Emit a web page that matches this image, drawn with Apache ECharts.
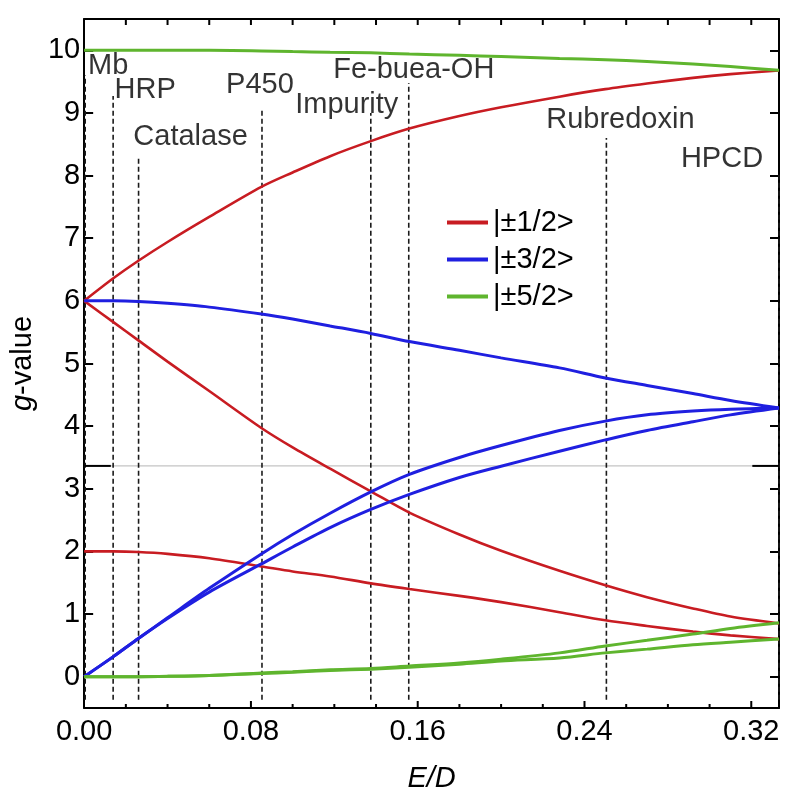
<!DOCTYPE html>
<html><head><meta charset="utf-8">
<script src="https://cdn.jsdelivr.net/npm/echarts@6/dist/echarts.min.js"></script>
<style>html,body{margin:0;padding:0;background:#fff}#c{width:800px;height:798px}</style>
</head><body><div id="c"></div>
<script>
// E/D sample positions
const ED = [0, 0.014, 0.026, 0.04, 0.06, 0.085, 0.1, 0.118, 0.1375, 0.156, 0.18, 0.2, 0.228, 0.25, 0.27, 0.292, 0.31, 0.3333];
// |±1/2> doublet g-values
const half1 = [6.0, 6.36, 6.64, 6.94, 7.34, 7.82, 8.05, 8.31, 8.55, 8.75, 8.95, 9.09, 9.26, 9.38, 9.47, 9.56, 9.62, 9.68];
const half2 = [6.0, 5.66, 5.37, 5.03, 4.56, 3.97, 3.66, 3.32, 2.96, 2.62, 2.27, 2.01, 1.69, 1.46, 1.27, 1.09, 0.96, 0.85];
const half3 = [2.0, 2.0, 1.99, 1.96, 1.89, 1.76, 1.68, 1.60, 1.49, 1.40, 1.29, 1.19, 1.03, 0.90, 0.81, 0.72, 0.66, 0.60];
// |±3/2> doublet
const three1 = [6.0, 6.0, 5.99, 5.96, 5.90, 5.79, 5.71, 5.60, 5.48, 5.35, 5.21, 5.09, 4.93, 4.77, 4.65, 4.52, 4.41, 4.29];
const three2 = [0, 0.32, 0.61, 0.94, 1.41, 1.96, 2.27, 2.61, 2.95, 3.23, 3.50, 3.69, 3.93, 4.08, 4.18, 4.24, 4.27, 4.29];
const three3 = [0, 0.32, 0.61, 0.93, 1.35, 1.80, 2.07, 2.38, 2.67, 2.91, 3.18, 3.36, 3.60, 3.78, 3.93, 4.07, 4.18, 4.29];
// |±5/2> doublet
const five1 = [10, 10, 10, 10, 10, 9.99, 9.98, 9.97, 9.96, 9.94, 9.92, 9.90, 9.87, 9.85, 9.82, 9.78, 9.74, 9.68];
const five2 = [0, 0, 0, 0.005, 0.02, 0.06, 0.08, 0.11, 0.13, 0.17, 0.22, 0.28, 0.38, 0.49, 0.58, 0.68, 0.77, 0.86];
const five3 = [0, 0, 0, 0.005, 0.02, 0.05, 0.07, 0.10, 0.12, 0.15, 0.20, 0.25, 0.30, 0.38, 0.44, 0.51, 0.55, 0.60];

const legendNames = ['|±1/2>', '|±3/2>', '|±5/2>'];
const xTicks = [0, 0.08, 0.16, 0.24, 0.32];
const xMajorTicks = [0.08, 0.16, 0.24, 0.32];
const xMinorTicks = [0.02, 0.04, 0.06, 0.10, 0.12, 0.14, 0.18, 0.20, 0.22, 0.26, 0.28, 0.30];
const xTopTicks = [0.02, 0.04, 0.06, 0.08, 0.10, 0.12, 0.14, 0.16, 0.18, 0.20, 0.22, 0.24, 0.26, 0.28, 0.30, 0.32];

// Reference systems (dashed markers)
const markerNames = ['Mb', 'HRP', 'Catalase', 'P450', 'Impurity', 'Fe-buea-OH', 'Rubredoxin', 'HPCD'];
const markerED = [0.0005, 0.0139, 0.0261, 0.0853, 0.1375, 0.1557, 0.2505, 0.3333];
const markerTop = [9.6, 9.27, 8.3, 9.08, 9.0, 9.48, 8.6, 8.05];
const markerBottom = -0.37;
const breakG = 3.365;
const Y_MIN = -0.5, Y_MAX = 10.5, X_MAX = 0.3333;

// ---- styles ----
const FONT = 'Liberation Sans, Arial, Helvetica, sans-serif';
const FS = 29;
const RED = '#c81c22', BLUE = '#1f1fe0', GREEN = '#5fb52e';
const labelOffsets = [[23, -9], [32, -6], [52, -20], [-2, -23], [-24, -8], [5, -13], [14, -18], [-57, -13]];
const PX_PER_G = (798 - 19 - 85) / (Y_MAX - Y_MIN);

const toPts = ys => ED.map((x, i) => [x, ys[i]]);
const curve = (name, ys, color, w) => ({
  name, type: 'line', data: toPts(ys), showSymbol: false, symbol: 'none',
  smooth: 0.3, lineStyle: { color, width: w }, itemStyle: { color }, z: 3
});

const series = [
  curve(legendNames[0], half1, RED, 2.6),
  curve(legendNames[0], half2, RED, 2.6),
  curve(legendNames[0], half3, RED, 2.6),
  curve(legendNames[1], three1, BLUE, 3),
  curve(legendNames[1], three2, BLUE, 3),
  curve(legendNames[1], three3, BLUE, 3),
  curve(legendNames[2], five1, GREEN, 3),
  curve(legendNames[2], five2, GREEN, 3),
  curve(legendNames[2], five3, GREEN, 3)
];

markerNames.forEach((n, i) => {
  series.push({
    name: 'm_' + n, type: 'line', symbol: 'none', silent: true, z: 2,
    data: [[markerED[i], markerBottom], [markerED[i], markerTop[i]]],
    lineStyle: { color: '#1a1a1a', width: 1.6, type: [5, 3] }
  });
});
series.push({
  name: 'labels', type: 'scatter', symbol: 'circle', symbolSize: 1, silent: true, z: 5,
  itemStyle: { color: 'transparent' },
  data: markerNames.map((n, i) => ({
    value: [markerED[i], markerTop[i]], name: n,
    label: { offset: labelOffsets[i] }
  })),
  label: {
    show: true, position: 'inside', formatter: p => p.name,
    fontSize: FS, fontFamily: FONT, color: '#000', align: 'center', verticalAlign: 'middle'
  }
});
// axis break indicator
series.push({
  name: 'break', type: 'line', symbol: 'none', silent: true, z: 1,
  data: [[0, breakG], [X_MAX, breakG]],
  lineStyle: { color: '#c4c4c4', width: 1.2 }
});
series.push({
  name: 'breakL', type: 'line', symbol: 'none', silent: true, z: 6,
  data: [[0, breakG], [0.0128, breakG]], lineStyle: { color: '#000', width: 2 }
});
series.push({
  name: 'breakR', type: 'line', symbol: 'none', silent: true, z: 6,
  data: [[0.3205, breakG], [X_MAX, breakG]], lineStyle: { color: '#000', width: 2 }
});
// x-axis tick marks (drawn through the axis scales)
const tickSeries = (name, vals, from, lenPx, dir) => {
  const d = [];
  vals.forEach(v => { d.push([v, from], [v, from + dir * lenPx / PX_PER_G], ['-', '-']); });
  return { name, type: 'line', symbol: 'none', silent: true, z: 7, clip: false, connectNulls: false,
    data: d, lineStyle: { color: '#000', width: 2 } };
};
series.push(tickSeries('tMajor', xMajorTicks, Y_MIN, 7, 1));
series.push(tickSeries('tMinor', xMinorTicks, Y_MIN, 4, 1));
series.push(tickSeries('tTop', xTopTicks, Y_MAX, 6, -1));

const axisLine = () => ({ show: true, onZero: false, lineStyle: { color: '#000', width: 2 } });
const ytick = { show: true, inside: true, length: 9, lineStyle: { color: '#000', width: 2 } };
const chart = echarts.init(document.getElementById('c'), null, { renderer: 'canvas' });
chart.setOption({
  animation: false,
  backgroundColor: '#fff',
  grid: { left: 84, right: 21, top: 19, bottom: 85 },
  legend: {
    data: legendNames, orient: 'vertical', left: 442, top: 203, itemGap: 8,
    icon: 'rect', itemWidth: 41, itemHeight: 4,
    textStyle: { fontSize: FS, fontFamily: FONT, color: '#000' }
  },
  xAxis: [
    {
      type: 'value', position: 'bottom', min: 0, max: X_MAX, interval: 0.08,
      axisLine: axisLine(), splitLine: { show: false }, axisTick: { show: false },
      axisLabel: {
        margin: 9, fontSize: FS, fontFamily: FONT, color: '#000', showMaxLabel: false,
        formatter: v => xTicks.some(t => Math.abs(t - v) < 1e-6) ? v.toFixed(2) : ''
      },
      name: 'E/D', nameLocation: 'middle', nameGap: 56,
      nameTextStyle: { fontSize: FS, fontFamily: FONT, fontStyle: 'italic', color: '#000' }
    },
    {
      type: 'value', position: 'top', min: 0, max: X_MAX, interval: 0.02,
      axisLine: axisLine(), splitLine: { show: false }, axisLabel: { show: false }, axisTick: { show: false }
    }
  ],
  yAxis: [
    {
      type: 'value', position: 'left', min: Y_MIN, max: Y_MAX, splitNumber: 11,
      axisLine: axisLine(), splitLine: { show: false }, axisTick: ytick,
      axisLabel: { margin: 4, fontSize: FS, fontFamily: FONT, color: '#000', showMinLabel: false, showMaxLabel: false },
      name: '{i|g}-value', nameLocation: 'middle', nameGap: 46,
      nameTextStyle: { fontSize: FS, fontFamily: FONT, color: '#000', rich: { i: { fontStyle: 'italic', fontSize: FS, fontFamily: FONT, color: '#000' } } }
    },
    {
      type: 'value', position: 'right', min: Y_MIN, max: Y_MAX, splitNumber: 11,
      axisLine: axisLine(), splitLine: { show: false }, axisLabel: { show: false }, axisTick: ytick
    }
  ],
  series
});
</script>
</body></html>
